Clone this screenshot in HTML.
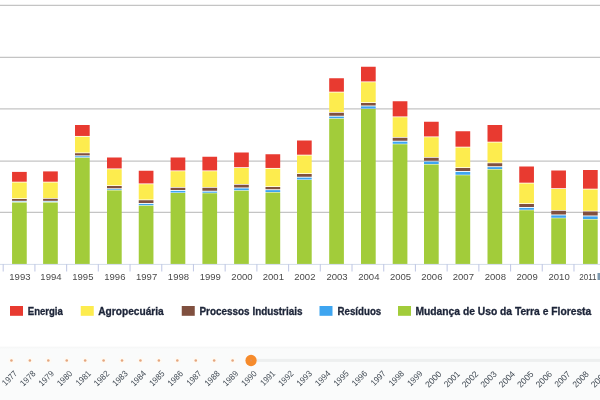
<!DOCTYPE html>
<html><head><meta charset="utf-8"><title>chart</title>
<style>
html,body{margin:0;padding:0;background:#fff;}
body{width:600px;height:400px;overflow:hidden;font-family:"Liberation Sans",sans-serif;}
svg{display:block;will-change:transform;}
text{font-family:"Liberation Sans",sans-serif;}
</style></head><body>
<svg width="600" height="400" viewBox="0 0 600 400">
<rect x="0" y="0" width="600" height="400" fill="#ffffff"/>
<defs><linearGradient id="tg" x1="0" y1="0" x2="0" y2="1"><stop offset="0" stop-color="#f5f6f6"/><stop offset="0.05" stop-color="#fafbfb"/><stop offset="1" stop-color="#fafbfb"/></linearGradient></defs>
<rect x="0" y="346.7" width="600" height="53.3" fill="url(#tg)"/>
<line x1="0" x2="600" y1="5.45" y2="5.45" stroke="#c4c4c4" stroke-width="1.2"/>
<line x1="0" x2="600" y1="57.35" y2="57.35" stroke="#c4c4c4" stroke-width="1.2"/>
<line x1="0" x2="600" y1="108.95" y2="108.95" stroke="#c4c4c4" stroke-width="1.2"/>
<line x1="0" x2="600" y1="161.20" y2="161.20" stroke="#c4c4c4" stroke-width="1.2"/>
<line x1="0" x2="600" y1="212.45" y2="212.45" stroke="#c4c4c4" stroke-width="1.2"/>
<rect x="12.05" y="171.90" width="14.70" height="9.80" fill="#e83a30"/><rect x="12.05" y="182.50" width="14.70" height="15.75" fill="#fdec4e"/><rect x="12.05" y="199.00" width="14.70" height="1.80" fill="#80503f"/><rect x="12.05" y="201.70" width="14.70" height="0.30" fill="#3ea5f0"/><rect x="12.05" y="202.50" width="14.70" height="61.50" fill="#a2cc3a"/>
<rect x="43.10" y="171.40" width="14.70" height="10.30" fill="#e83a30"/><rect x="43.10" y="182.50" width="14.70" height="15.50" fill="#fdec4e"/><rect x="43.10" y="198.75" width="14.70" height="2.05" fill="#80503f"/><rect x="43.10" y="201.70" width="14.70" height="0.30" fill="#3ea5f0"/><rect x="43.10" y="202.50" width="14.70" height="61.50" fill="#a2cc3a"/>
<rect x="75.00" y="125.00" width="14.70" height="10.95" fill="#e83a30"/><rect x="75.00" y="136.75" width="14.70" height="15.75" fill="#fdec4e"/><rect x="75.00" y="153.25" width="14.70" height="2.15" fill="#80503f"/><rect x="75.00" y="156.30" width="14.70" height="1.00" fill="#3ea5f0"/><rect x="75.00" y="157.80" width="14.70" height="106.20" fill="#a2cc3a"/>
<rect x="107.00" y="157.50" width="14.70" height="10.95" fill="#e83a30"/><rect x="107.00" y="169.25" width="14.70" height="16.00" fill="#fdec4e"/><rect x="107.00" y="186.00" width="14.70" height="2.30" fill="#80503f"/><rect x="107.00" y="189.20" width="14.70" height="0.70" fill="#3ea5f0"/><rect x="107.00" y="190.40" width="14.70" height="73.60" fill="#a2cc3a"/>
<rect x="138.75" y="170.75" width="14.70" height="12.70" fill="#e83a30"/><rect x="138.75" y="184.25" width="14.70" height="15.25" fill="#fdec4e"/><rect x="138.75" y="200.25" width="14.70" height="2.75" fill="#80503f"/><rect x="138.75" y="203.90" width="14.70" height="1.35" fill="#3ea5f0"/><rect x="138.75" y="205.75" width="14.70" height="58.25" fill="#a2cc3a"/>
<rect x="170.60" y="157.50" width="14.70" height="12.95" fill="#e83a30"/><rect x="170.60" y="171.25" width="14.70" height="15.75" fill="#fdec4e"/><rect x="170.60" y="187.75" width="14.70" height="2.25" fill="#80503f"/><rect x="170.60" y="190.90" width="14.70" height="1.60" fill="#3ea5f0"/><rect x="170.60" y="193.00" width="14.70" height="71.00" fill="#a2cc3a"/>
<rect x="202.40" y="156.75" width="14.70" height="13.70" fill="#e83a30"/><rect x="202.40" y="171.25" width="14.70" height="15.75" fill="#fdec4e"/><rect x="202.40" y="187.75" width="14.70" height="3.00" fill="#80503f"/><rect x="202.40" y="191.65" width="14.70" height="1.10" fill="#3ea5f0"/><rect x="202.40" y="193.25" width="14.70" height="70.75" fill="#a2cc3a"/>
<rect x="234.10" y="152.50" width="14.70" height="14.70" fill="#e83a30"/><rect x="234.10" y="168.00" width="14.70" height="16.00" fill="#fdec4e"/><rect x="234.10" y="184.75" width="14.70" height="2.75" fill="#80503f"/><rect x="234.10" y="188.40" width="14.70" height="1.85" fill="#3ea5f0"/><rect x="234.10" y="190.75" width="14.70" height="73.25" fill="#a2cc3a"/>
<rect x="265.50" y="154.25" width="14.70" height="13.70" fill="#e83a30"/><rect x="265.50" y="168.75" width="14.70" height="17.50" fill="#fdec4e"/><rect x="265.50" y="187.00" width="14.70" height="2.25" fill="#80503f"/><rect x="265.50" y="190.15" width="14.70" height="1.85" fill="#3ea5f0"/><rect x="265.50" y="192.50" width="14.70" height="71.50" fill="#a2cc3a"/>
<rect x="297.00" y="140.50" width="14.70" height="14.20" fill="#e83a30"/><rect x="297.00" y="155.50" width="14.70" height="17.75" fill="#fdec4e"/><rect x="297.00" y="174.00" width="14.70" height="2.75" fill="#80503f"/><rect x="297.00" y="177.65" width="14.70" height="1.85" fill="#3ea5f0"/><rect x="297.00" y="180.00" width="14.70" height="84.00" fill="#a2cc3a"/>
<rect x="329.20" y="78.25" width="14.70" height="13.45" fill="#e83a30"/><rect x="329.20" y="92.50" width="14.70" height="19.50" fill="#fdec4e"/><rect x="329.20" y="112.75" width="14.70" height="3.00" fill="#80503f"/><rect x="329.20" y="116.65" width="14.70" height="1.60" fill="#3ea5f0"/><rect x="329.20" y="118.75" width="14.70" height="145.25" fill="#a2cc3a"/>
<rect x="361.00" y="66.75" width="14.70" height="14.70" fill="#e83a30"/><rect x="361.00" y="82.25" width="14.70" height="20.00" fill="#fdec4e"/><rect x="361.00" y="103.00" width="14.70" height="2.50" fill="#80503f"/><rect x="361.00" y="106.40" width="14.70" height="2.10" fill="#3ea5f0"/><rect x="361.00" y="109.00" width="14.70" height="155.00" fill="#a2cc3a"/>
<rect x="392.70" y="101.25" width="14.70" height="15.20" fill="#e83a30"/><rect x="392.70" y="117.25" width="14.70" height="19.75" fill="#fdec4e"/><rect x="392.70" y="137.75" width="14.70" height="3.00" fill="#80503f"/><rect x="392.70" y="141.65" width="14.70" height="2.10" fill="#3ea5f0"/><rect x="392.70" y="144.25" width="14.70" height="119.75" fill="#a2cc3a"/>
<rect x="424.00" y="121.75" width="14.70" height="14.70" fill="#e83a30"/><rect x="424.00" y="137.25" width="14.70" height="19.75" fill="#fdec4e"/><rect x="424.00" y="157.75" width="14.70" height="3.00" fill="#80503f"/><rect x="424.00" y="161.65" width="14.70" height="2.35" fill="#3ea5f0"/><rect x="424.00" y="164.50" width="14.70" height="99.50" fill="#a2cc3a"/>
<rect x="455.50" y="131.25" width="14.70" height="15.45" fill="#e83a30"/><rect x="455.50" y="147.50" width="14.70" height="19.75" fill="#fdec4e"/><rect x="455.50" y="168.00" width="14.70" height="3.00" fill="#80503f"/><rect x="455.50" y="171.90" width="14.70" height="2.85" fill="#3ea5f0"/><rect x="455.50" y="175.25" width="14.70" height="88.75" fill="#a2cc3a"/>
<rect x="487.50" y="125.00" width="14.70" height="16.70" fill="#e83a30"/><rect x="487.50" y="142.50" width="14.70" height="20.00" fill="#fdec4e"/><rect x="487.50" y="163.25" width="14.70" height="3.00" fill="#80503f"/><rect x="487.50" y="167.15" width="14.70" height="1.85" fill="#3ea5f0"/><rect x="487.50" y="169.50" width="14.70" height="94.50" fill="#a2cc3a"/>
<rect x="519.25" y="166.50" width="14.70" height="16.20" fill="#e83a30"/><rect x="519.25" y="183.50" width="14.70" height="19.75" fill="#fdec4e"/><rect x="519.25" y="204.00" width="14.70" height="3.00" fill="#80503f"/><rect x="519.25" y="207.90" width="14.70" height="1.85" fill="#3ea5f0"/><rect x="519.25" y="210.25" width="14.70" height="53.75" fill="#a2cc3a"/>
<rect x="551.25" y="170.50" width="14.70" height="17.70" fill="#e83a30"/><rect x="551.25" y="189.00" width="14.70" height="21.00" fill="#fdec4e"/><rect x="551.25" y="210.75" width="14.70" height="3.75" fill="#80503f"/><rect x="551.25" y="215.40" width="14.70" height="2.35" fill="#3ea5f0"/><rect x="551.25" y="218.25" width="14.70" height="45.75" fill="#a2cc3a"/>
<rect x="583.00" y="170.00" width="14.70" height="18.70" fill="#e83a30"/><rect x="583.00" y="189.50" width="14.70" height="21.25" fill="#fdec4e"/><rect x="583.00" y="211.50" width="14.70" height="4.00" fill="#80503f"/><rect x="583.00" y="216.40" width="14.70" height="2.60" fill="#3ea5f0"/><rect x="583.00" y="219.50" width="14.70" height="44.50" fill="#a2cc3a"/>
<line x1="0" x2="600" y1="264.4" y2="264.4" stroke="#d3dcea" stroke-width="1"/>
<line x1="3.20" x2="3.20" y1="264" y2="271.4" stroke="#c4cbe6" stroke-width="1.1"/><line x1="34.91" x2="34.91" y1="264" y2="271.4" stroke="#c4cbe6" stroke-width="1.1"/><line x1="66.62" x2="66.62" y1="264" y2="271.4" stroke="#c4cbe6" stroke-width="1.1"/><line x1="98.33" x2="98.33" y1="264" y2="271.4" stroke="#c4cbe6" stroke-width="1.1"/><line x1="130.04" x2="130.04" y1="264" y2="271.4" stroke="#c4cbe6" stroke-width="1.1"/><line x1="161.75" x2="161.75" y1="264" y2="271.4" stroke="#c4cbe6" stroke-width="1.1"/><line x1="193.46" x2="193.46" y1="264" y2="271.4" stroke="#c4cbe6" stroke-width="1.1"/><line x1="225.17" x2="225.17" y1="264" y2="271.4" stroke="#c4cbe6" stroke-width="1.1"/><line x1="256.88" x2="256.88" y1="264" y2="271.4" stroke="#c4cbe6" stroke-width="1.1"/><line x1="288.59" x2="288.59" y1="264" y2="271.4" stroke="#c4cbe6" stroke-width="1.1"/><line x1="320.30" x2="320.30" y1="264" y2="271.4" stroke="#c4cbe6" stroke-width="1.1"/><line x1="352.01" x2="352.01" y1="264" y2="271.4" stroke="#c4cbe6" stroke-width="1.1"/><line x1="383.72" x2="383.72" y1="264" y2="271.4" stroke="#c4cbe6" stroke-width="1.1"/><line x1="415.43" x2="415.43" y1="264" y2="271.4" stroke="#c4cbe6" stroke-width="1.1"/><line x1="447.14" x2="447.14" y1="264" y2="271.4" stroke="#c4cbe6" stroke-width="1.1"/><line x1="478.85" x2="478.85" y1="264" y2="271.4" stroke="#c4cbe6" stroke-width="1.1"/><line x1="510.56" x2="510.56" y1="264" y2="271.4" stroke="#c4cbe6" stroke-width="1.1"/><line x1="542.27" x2="542.27" y1="264" y2="271.4" stroke="#c4cbe6" stroke-width="1.1"/><line x1="573.98" x2="573.98" y1="264" y2="271.4" stroke="#c4cbe6" stroke-width="1.1"/><line x1="605.69" x2="605.69" y1="264" y2="271.4" stroke="#c4cbe6" stroke-width="1.1"/>
<text x="19.90" y="279.5" font-size="9.2" fill="#4a4a4a" text-anchor="middle" textLength="21.2" lengthAdjust="spacingAndGlyphs">1993</text><text x="50.95" y="279.5" font-size="9.2" fill="#4a4a4a" text-anchor="middle" textLength="21.2" lengthAdjust="spacingAndGlyphs">1994</text><text x="82.85" y="279.5" font-size="9.2" fill="#4a4a4a" text-anchor="middle" textLength="21.2" lengthAdjust="spacingAndGlyphs">1995</text><text x="114.85" y="279.5" font-size="9.2" fill="#4a4a4a" text-anchor="middle" textLength="21.2" lengthAdjust="spacingAndGlyphs">1996</text><text x="146.60" y="279.5" font-size="9.2" fill="#4a4a4a" text-anchor="middle" textLength="21.2" lengthAdjust="spacingAndGlyphs">1997</text><text x="178.45" y="279.5" font-size="9.2" fill="#4a4a4a" text-anchor="middle" textLength="21.2" lengthAdjust="spacingAndGlyphs">1998</text><text x="210.25" y="279.5" font-size="9.2" fill="#4a4a4a" text-anchor="middle" textLength="21.2" lengthAdjust="spacingAndGlyphs">1999</text><text x="241.95" y="279.5" font-size="9.2" fill="#4a4a4a" text-anchor="middle" textLength="21.2" lengthAdjust="spacingAndGlyphs">2000</text><text x="273.35" y="279.5" font-size="9.2" fill="#4a4a4a" text-anchor="middle" textLength="21.2" lengthAdjust="spacingAndGlyphs">2001</text><text x="304.85" y="279.5" font-size="9.2" fill="#4a4a4a" text-anchor="middle" textLength="21.2" lengthAdjust="spacingAndGlyphs">2002</text><text x="337.05" y="279.5" font-size="9.2" fill="#4a4a4a" text-anchor="middle" textLength="21.2" lengthAdjust="spacingAndGlyphs">2003</text><text x="368.85" y="279.5" font-size="9.2" fill="#4a4a4a" text-anchor="middle" textLength="21.2" lengthAdjust="spacingAndGlyphs">2004</text><text x="400.55" y="279.5" font-size="9.2" fill="#4a4a4a" text-anchor="middle" textLength="21.2" lengthAdjust="spacingAndGlyphs">2005</text><text x="431.85" y="279.5" font-size="9.2" fill="#4a4a4a" text-anchor="middle" textLength="21.2" lengthAdjust="spacingAndGlyphs">2006</text><text x="463.35" y="279.5" font-size="9.2" fill="#4a4a4a" text-anchor="middle" textLength="21.2" lengthAdjust="spacingAndGlyphs">2007</text><text x="495.35" y="279.5" font-size="9.2" fill="#4a4a4a" text-anchor="middle" textLength="21.2" lengthAdjust="spacingAndGlyphs">2008</text><text x="527.10" y="279.5" font-size="9.2" fill="#4a4a4a" text-anchor="middle" textLength="21.2" lengthAdjust="spacingAndGlyphs">2009</text><text x="559.10" y="279.5" font-size="9.2" fill="#4a4a4a" text-anchor="middle" textLength="21.2" lengthAdjust="spacingAndGlyphs">2010</text><text x="579.2" y="279.5" font-size="9.2" fill="#4a4a4a" text-anchor="start" textLength="17.4" lengthAdjust="spacingAndGlyphs">2011</text>
<rect x="597.5" y="273" width="2.5" height="7" fill="#7f9bb0"/>
<rect x="10.00" y="306" width="13" height="9.8" fill="#e83a30"/><text x="27.75" y="315" font-size="10" font-weight="bold" fill="#1c2438" stroke="#1c2438" stroke-width="0.3" textLength="35.10" lengthAdjust="spacingAndGlyphs">Energia</text>
<rect x="80.75" y="306" width="13" height="9.8" fill="#fdec4e"/><text x="98.25" y="315" font-size="10" font-weight="bold" fill="#1c2438" stroke="#1c2438" stroke-width="0.3" textLength="65.50" lengthAdjust="spacingAndGlyphs">Agropecuária</text>
<rect x="181.75" y="306" width="13" height="9.8" fill="#80503f"/><text x="199.50" y="315" font-size="10" font-weight="bold" fill="#1c2438" stroke="#1c2438" stroke-width="0.3" textLength="103.00" lengthAdjust="spacingAndGlyphs">Processos Industriais</text>
<rect x="319.50" y="306" width="13" height="9.8" fill="#3ea5f0"/><text x="337.50" y="315" font-size="10" font-weight="bold" fill="#1c2438" stroke="#1c2438" stroke-width="0.3" textLength="43.75" lengthAdjust="spacingAndGlyphs">Resíduos</text>
<rect x="398.00" y="306" width="13" height="9.8" fill="#a2cc3a"/><text x="415.50" y="315" font-size="10" font-weight="bold" fill="#1c2438" stroke="#1c2438" stroke-width="0.3" textLength="175.75" lengthAdjust="spacingAndGlyphs">Mudança de Uso da Terra e Floresta</text>
<rect x="251" y="358.9" width="349" height="3.0" fill="#edefef"/>
<circle cx="11.45" cy="360.5" r="3.2" fill="#fffaf3" opacity="0.8"/><circle cx="11.45" cy="360.5" r="1.3" fill="#e5a67e"/><circle cx="29.88" cy="360.5" r="3.2" fill="#fffaf3" opacity="0.8"/><circle cx="29.88" cy="360.5" r="1.3" fill="#e5a67e"/><circle cx="48.31" cy="360.5" r="3.2" fill="#fffaf3" opacity="0.8"/><circle cx="48.31" cy="360.5" r="1.3" fill="#e5a67e"/><circle cx="66.74" cy="360.5" r="3.2" fill="#fffaf3" opacity="0.8"/><circle cx="66.74" cy="360.5" r="1.3" fill="#e5a67e"/><circle cx="85.17" cy="360.5" r="3.2" fill="#fffaf3" opacity="0.8"/><circle cx="85.17" cy="360.5" r="1.3" fill="#e5a67e"/><circle cx="103.60" cy="360.5" r="3.2" fill="#fffaf3" opacity="0.8"/><circle cx="103.60" cy="360.5" r="1.3" fill="#e5a67e"/><circle cx="122.03" cy="360.5" r="3.2" fill="#fffaf3" opacity="0.8"/><circle cx="122.03" cy="360.5" r="1.3" fill="#e5a67e"/><circle cx="140.46" cy="360.5" r="3.2" fill="#fffaf3" opacity="0.8"/><circle cx="140.46" cy="360.5" r="1.3" fill="#e5a67e"/><circle cx="158.89" cy="360.5" r="3.2" fill="#fffaf3" opacity="0.8"/><circle cx="158.89" cy="360.5" r="1.3" fill="#e5a67e"/><circle cx="177.32" cy="360.5" r="3.2" fill="#fffaf3" opacity="0.8"/><circle cx="177.32" cy="360.5" r="1.3" fill="#e5a67e"/><circle cx="195.75" cy="360.5" r="3.2" fill="#fffaf3" opacity="0.8"/><circle cx="195.75" cy="360.5" r="1.3" fill="#e5a67e"/><circle cx="214.18" cy="360.5" r="3.2" fill="#fffaf3" opacity="0.8"/><circle cx="214.18" cy="360.5" r="1.3" fill="#e5a67e"/><circle cx="232.61" cy="360.5" r="3.2" fill="#fffaf3" opacity="0.8"/><circle cx="232.61" cy="360.5" r="1.3" fill="#e5a67e"/>
<circle cx="251.04" cy="360.5" r="5.65" fill="#f68b2c"/><circle cx="251.04" cy="360.5" r="0.9" fill="#dc9468" opacity="0.7"/>
<text transform="translate(-2.93 372.05) rotate(-45)" x="0" y="3.1" font-size="8.7" fill="#414a54" text-anchor="end" textLength="17.7" lengthAdjust="spacingAndGlyphs">1976</text><text transform="translate(15.50 372.05) rotate(-45)" x="0" y="3.1" font-size="8.7" fill="#414a54" text-anchor="end" textLength="17.1" lengthAdjust="spacingAndGlyphs">1977</text><text transform="translate(33.93 372.05) rotate(-45)" x="0" y="3.1" font-size="8.7" fill="#414a54" text-anchor="end" textLength="17.7" lengthAdjust="spacingAndGlyphs">1978</text><text transform="translate(52.36 372.05) rotate(-45)" x="0" y="3.1" font-size="8.7" fill="#414a54" text-anchor="end" textLength="17.7" lengthAdjust="spacingAndGlyphs">1979</text><text transform="translate(70.79 372.05) rotate(-45)" x="0" y="3.1" font-size="8.7" fill="#414a54" text-anchor="end" textLength="17.7" lengthAdjust="spacingAndGlyphs">1980</text><text transform="translate(89.22 372.05) rotate(-45)" x="0" y="3.1" font-size="8.7" fill="#414a54" text-anchor="end" textLength="17.1" lengthAdjust="spacingAndGlyphs">1981</text><text transform="translate(107.65 372.05) rotate(-45)" x="0" y="3.1" font-size="8.7" fill="#414a54" text-anchor="end" textLength="17.7" lengthAdjust="spacingAndGlyphs">1982</text><text transform="translate(126.08 372.05) rotate(-45)" x="0" y="3.1" font-size="8.7" fill="#414a54" text-anchor="end" textLength="17.7" lengthAdjust="spacingAndGlyphs">1983</text><text transform="translate(144.51 372.05) rotate(-45)" x="0" y="3.1" font-size="8.7" fill="#414a54" text-anchor="end" textLength="17.7" lengthAdjust="spacingAndGlyphs">1984</text><text transform="translate(162.94 372.05) rotate(-45)" x="0" y="3.1" font-size="8.7" fill="#414a54" text-anchor="end" textLength="17.7" lengthAdjust="spacingAndGlyphs">1985</text><text transform="translate(181.37 372.05) rotate(-45)" x="0" y="3.1" font-size="8.7" fill="#414a54" text-anchor="end" textLength="17.7" lengthAdjust="spacingAndGlyphs">1986</text><text transform="translate(199.80 372.05) rotate(-45)" x="0" y="3.1" font-size="8.7" fill="#414a54" text-anchor="end" textLength="17.1" lengthAdjust="spacingAndGlyphs">1987</text><text transform="translate(218.23 372.05) rotate(-45)" x="0" y="3.1" font-size="8.7" fill="#414a54" text-anchor="end" textLength="17.7" lengthAdjust="spacingAndGlyphs">1988</text><text transform="translate(236.66 372.05) rotate(-45)" x="0" y="3.1" font-size="8.7" fill="#414a54" text-anchor="end" textLength="17.7" lengthAdjust="spacingAndGlyphs">1989</text><text transform="translate(255.09 372.05) rotate(-45)" x="0" y="3.1" font-size="8.7" fill="#414a54" text-anchor="end" textLength="17.7" lengthAdjust="spacingAndGlyphs">1990</text><text transform="translate(273.52 372.05) rotate(-45)" x="0" y="3.1" font-size="8.7" fill="#414a54" text-anchor="end" textLength="17.1" lengthAdjust="spacingAndGlyphs">1991</text><text transform="translate(291.95 372.05) rotate(-45)" x="0" y="3.1" font-size="8.7" fill="#414a54" text-anchor="end" textLength="17.7" lengthAdjust="spacingAndGlyphs">1992</text><text transform="translate(310.38 372.05) rotate(-45)" x="0" y="3.1" font-size="8.7" fill="#414a54" text-anchor="end" textLength="17.7" lengthAdjust="spacingAndGlyphs">1993</text><text transform="translate(328.81 372.05) rotate(-45)" x="0" y="3.1" font-size="8.7" fill="#414a54" text-anchor="end" textLength="17.7" lengthAdjust="spacingAndGlyphs">1994</text><text transform="translate(347.24 372.05) rotate(-45)" x="0" y="3.1" font-size="8.7" fill="#414a54" text-anchor="end" textLength="17.7" lengthAdjust="spacingAndGlyphs">1995</text><text transform="translate(365.67 372.05) rotate(-45)" x="0" y="3.1" font-size="8.7" fill="#414a54" text-anchor="end" textLength="17.7" lengthAdjust="spacingAndGlyphs">1996</text><text transform="translate(384.10 372.05) rotate(-45)" x="0" y="3.1" font-size="8.7" fill="#414a54" text-anchor="end" textLength="17.1" lengthAdjust="spacingAndGlyphs">1997</text><text transform="translate(402.53 372.05) rotate(-45)" x="0" y="3.1" font-size="8.7" fill="#414a54" text-anchor="end" textLength="17.7" lengthAdjust="spacingAndGlyphs">1998</text><text transform="translate(420.96 372.05) rotate(-45)" x="0" y="3.1" font-size="8.7" fill="#414a54" text-anchor="end" textLength="17.7" lengthAdjust="spacingAndGlyphs">1999</text><text transform="translate(439.79 372.50) rotate(-45)" x="0" y="3.1" font-size="8.7" fill="#414a54" text-anchor="end" textLength="18.9" lengthAdjust="spacingAndGlyphs">2000</text><text transform="translate(458.22 372.50) rotate(-45)" x="0" y="3.1" font-size="8.7" fill="#414a54" text-anchor="end" textLength="18.3" lengthAdjust="spacingAndGlyphs">2001</text><text transform="translate(476.65 372.50) rotate(-45)" x="0" y="3.1" font-size="8.7" fill="#414a54" text-anchor="end" textLength="18.9" lengthAdjust="spacingAndGlyphs">2002</text><text transform="translate(495.08 372.50) rotate(-45)" x="0" y="3.1" font-size="8.7" fill="#414a54" text-anchor="end" textLength="18.9" lengthAdjust="spacingAndGlyphs">2003</text><text transform="translate(513.51 372.50) rotate(-45)" x="0" y="3.1" font-size="8.7" fill="#414a54" text-anchor="end" textLength="18.9" lengthAdjust="spacingAndGlyphs">2004</text><text transform="translate(531.94 372.50) rotate(-45)" x="0" y="3.1" font-size="8.7" fill="#414a54" text-anchor="end" textLength="18.9" lengthAdjust="spacingAndGlyphs">2005</text><text transform="translate(550.37 372.50) rotate(-45)" x="0" y="3.1" font-size="8.7" fill="#414a54" text-anchor="end" textLength="18.9" lengthAdjust="spacingAndGlyphs">2006</text><text transform="translate(568.80 372.50) rotate(-45)" x="0" y="3.1" font-size="8.7" fill="#414a54" text-anchor="end" textLength="18.3" lengthAdjust="spacingAndGlyphs">2007</text><text transform="translate(587.23 372.50) rotate(-45)" x="0" y="3.1" font-size="8.7" fill="#414a54" text-anchor="end" textLength="18.9" lengthAdjust="spacingAndGlyphs">2008</text><text transform="translate(605.66 372.50) rotate(-45)" x="0" y="3.1" font-size="8.7" fill="#414a54" text-anchor="end" textLength="18.9" lengthAdjust="spacingAndGlyphs">2009</text><text transform="translate(624.09 372.50) rotate(-45)" x="0" y="3.1" font-size="8.7" fill="#414a54" text-anchor="end" textLength="18.9" lengthAdjust="spacingAndGlyphs">2010</text>
</svg>
</body></html>
